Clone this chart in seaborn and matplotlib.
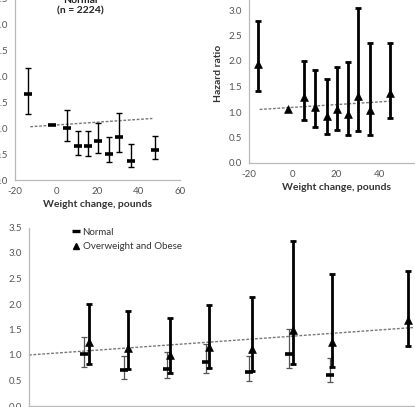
import numpy as np
import pandas as pd
import matplotlib
matplotlib.use("Agg")
import matplotlib.pyplot as plt
from matplotlib.lines import Line2D
import seaborn as sns

# ---------------- data ----------------
# Top-left panel: Normal (n = 2224)
norm_x = [-13.6, 5.3, 10.7, 15.5, 20.4, 25.7, 30.6, 36.4, 48.0]
norm_hr = [1.66, 1.01, 0.66, 0.66, 0.75, 0.51, 0.83, 0.37, 0.58]
norm_lo = [1.27, 0.75, 0.48, 0.46, 0.52, 0.34, 0.54, 0.25, 0.41]
norm_hi = [2.16, 1.35, 0.94, 0.95, 1.10, 0.83, 1.29, 0.70, 0.86]
norm_ref_x = [-1.9]
norm_ref_hr = [1.06]
norm_trend_x = [-12.6, 46.6]
norm_trend_y = [1.03, 1.19]

# Top-right panel: Overweight and obese
ow_x = [-15.8, 5.2, 10.3, 15.7, 20.3, 25.4, 30.0, 35.7, 44.6]
ow_hr = [1.95, 1.29, 1.10, 0.93, 1.06, 0.96, 1.31, 1.03, 1.37]
ow_lo = [1.41, 0.85, 0.71, 0.57, 0.64, 0.54, 0.63, 0.54, 0.88]
ow_hi = [2.78, 2.00, 1.83, 1.65, 1.88, 1.98, 3.04, 2.35, 2.35]
ow_ref_x = [-2.0]
ow_ref_hr = [1.06]
ow_trend_x = [-15.1, 44.2]
ow_trend_y = [1.05, 1.21]

# Bottom panel: both groups
b_norm_x = [6.7, 11.6, 16.8, 21.6, 26.8, 31.7, 36.7]
b_norm_hr = [1.01, 0.71, 0.73, 0.87, 0.67, 1.02, 0.61]
b_norm_lo = [0.76, 0.52, 0.54, 0.65, 0.50, 0.75, 0.48]
b_norm_hi = [1.36, 0.99, 1.05, 1.22, 0.99, 1.51, 0.95]
b_ow_x = [7.3, 12.1, 17.2, 21.9, 27.2, 32.2, 37.0, 46.2]
b_ow_hr = [1.26, 1.13, 1.00, 1.16, 1.12, 1.49, 1.25, 1.69]
b_ow_lo = [0.82, 0.72, 0.64, 0.75, 0.69, 0.82, 0.76, 1.18]
b_ow_hi = [2.00, 1.87, 1.72, 1.99, 2.14, 3.24, 2.58, 2.65]
b_trend_x = [0.0, 47.0]
b_trend_y = [1.00, 1.54]

legend_labels = ["Normal", "Overweight and Obese"]
top_left_title = "Normal\n(n = 2224)"
x_label = "Weight change, pounds"
y_label = "Hazard ratio"

# ---------------- styling ----------------
sns.set_style("white")
plt.rcParams["font.family"] = ["Lato", "DejaVu Sans"]
plt.rcParams["axes.unicode_minus"] = False

W, H = 415, 407
fig = plt.figure(figsize=(W / 100, H / 100), dpi=100)

def px_axes(x0, y0, x1, y1):
    # x0,x1 = left/right pixels; y0 = bottom pixel, y1 = top pixel
    return fig.add_axes([x0 / W, 1 - y0 / H, (x1 - x0) / W, (y0 - y1) / H])

SPINE = "#b8b8b8"
TXT = "#555555"

def style(ax, xticks, xlim):
    ax.set_xlim(*xlim)
    ax.set_ylim(0, 3.5)
    ax.set_xticks(xticks)
    ax.set_yticks(np.arange(0, 3.51, 0.5))
    ax.set_yticklabels([f"{v:.1f}" for v in np.arange(0, 3.51, 0.5)])
    for s in ["top", "right"]:
        ax.spines[s].set_visible(False)
    for s in ["left", "bottom"]:
        ax.spines[s].set_color(SPINE)
        ax.spines[s].set_linewidth(0.9)
    ax.tick_params(axis="both", direction="out", length=3, width=0.8,
                   color=SPINE, labelcolor=TXT, labelsize=7, pad=2)
    ax.patch.set_alpha(0)

def trend(ax, xs, ys):
    sns.lineplot(x=xs, y=ys, ax=ax, color="#777777", lw=1.0,
                 linestyle=(0, (2, 1.2)), legend=False)

def bars(ax, xs, hr, lo, hi, lw, cap, color="black"):
    hr = np.array(hr); lo = np.array(lo); hi = np.array(hi)
    ax.errorbar(xs, hr, yerr=[hr - lo, hi - hr], fmt="none", ecolor=color,
                elinewidth=lw, capsize=cap, capthick=lw, zorder=2)

# ---- top-left: Normal ----
ax1 = px_axes(15, 180, 180, -1)
style(ax1, [-20, 0, 20, 40, 60], (-20, 60))
trend(ax1, norm_trend_x, norm_trend_y)
bars(ax1, norm_x, norm_hr, norm_lo, norm_hi, 1.0, 2.5)
sns.scatterplot(x=norm_x + norm_ref_x, y=norm_hr + norm_ref_hr, ax=ax1,
                marker="_", s=32, linewidth=2.6, color="black", zorder=3)
ax1.set_xlabel(x_label, fontsize=7.5, fontweight="bold", color="#333333", labelpad=3)
ax1.set_ylabel("")
fig.text(80 / W, 1 - 6 / H, top_left_title, ha="center", va="center",
         fontsize=7.5, fontweight="bold", color="#222222", linespacing=1.2)

# ---- top-right: Overweight and obese ----
ax2 = px_axes(249, 163, 423, -15.5)
style(ax2, [-20, 0, 20, 40, 60], (-20, 60))
trend(ax2, ow_trend_x, ow_trend_y)
bars(ax2, ow_x, ow_hr, ow_lo, ow_hi, 2.0, 2.5)
sns.scatterplot(x=ow_x + ow_ref_x, y=ow_hr + ow_ref_hr, ax=ax2,
                marker="^", s=32, color="black", edgecolor="black", zorder=3)
ax2.set_xlabel(x_label, fontsize=7.5, fontweight="bold", color="#333333", labelpad=3)
ax2.set_ylabel(y_label, fontsize=7.5, fontweight="bold", color="#333333", labelpad=4)

# ---- bottom: combined ----
ax3 = px_axes(29, 406, 439, 227.5)
style(ax3, np.arange(0, 51, 5), (0, 50))
trend(ax3, b_trend_x, b_trend_y)
bars(ax3, b_norm_x, b_norm_hr, b_norm_lo, b_norm_hi, 0.9, 2.5, color="#555555")
bars(ax3, b_ow_x, b_ow_hr, b_ow_lo, b_ow_hi, 2.0, 2.5)
sns.scatterplot(x=b_norm_x, y=b_norm_hr, ax=ax3, marker="_", s=32,
                linewidth=2.6, color="black", zorder=3)
sns.scatterplot(x=b_ow_x, y=b_ow_hr, ax=ax3, marker="^", s=32,
                color="black", edgecolor="black", zorder=3)
handles = [Line2D([], [], marker="_", ls="none", color="black", ms=6, mew=2.4),
           Line2D([], [], marker="^", ls="none", color="black", ms=5)]
ax3.legend(handles, legend_labels, loc="upper left",
           bbox_to_anchor=((68 - 29) / 410, 1 - (224 - 227.5) / 178.5 - 0.0),
           frameon=False, fontsize=7, handlelength=0.8, handletextpad=0.3,
           labelspacing=0.55, borderaxespad=0, labelcolor="#333333")

fig.savefig("out.png", dpi=100)
